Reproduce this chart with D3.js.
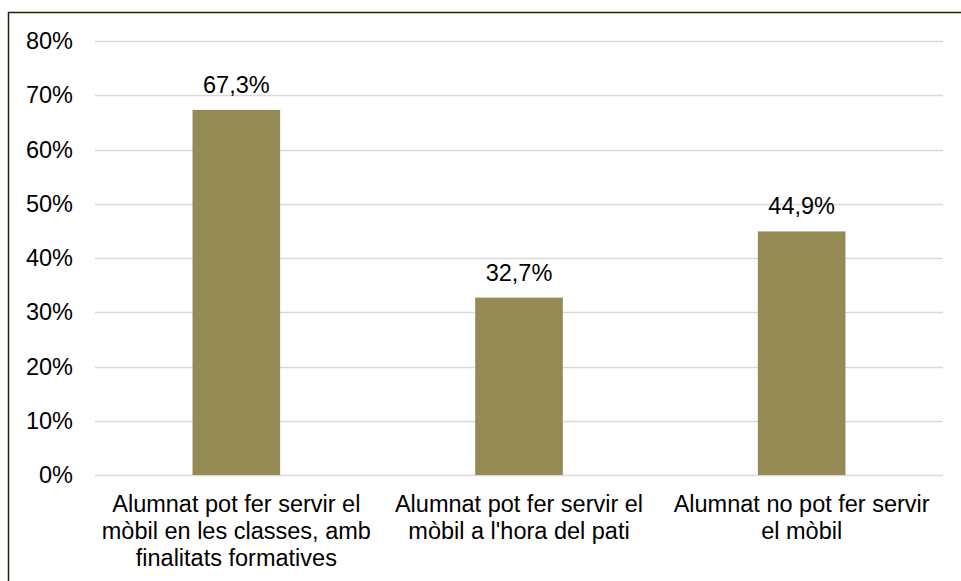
<!DOCTYPE html>
<html>
<head>
<meta charset="utf-8">
<script src="https://cdn.jsdelivr.net/npm/d3@7"></script>
<style>
  body { margin: 0; background: #fff; }
  text { font-family: "Liberation Sans", Arial, sans-serif; fill: #000; }
</style>
</head>
<body>
<div id="chart"></div>
<script>
const categories = [
  ['Alumnat pot fer servir el', 'mòbil en les classes, amb', 'finalitats formatives'],
  ['Alumnat pot fer servir el', "mòbil a l'hora del pati"],
  ['Alumnat no pot fer servir', 'el mòbil']
];
const values = [67.3, 32.7, 44.9];
const yTicks = [0, 10, 20, 30, 40, 50, 60, 70, 80];

const width = 961, height = 581;
const margin = { top: 41, right: 18, bottom: 106, left: 95 };
const fs = '23.5px';

const svg = d3.select('#chart').append('svg').attr('width', width).attr('height', height);

// outer frame
svg.append('rect').attr('x', 8.5).attr('y', 12.5).attr('width', width + 10).attr('height', height + 10)
  .attr('fill', 'none').attr('stroke', '#23230f').attr('stroke-width', 1.5);

const x = d3.scaleBand().domain(d3.range(values.length))
  .range([margin.left, width - margin.right]).paddingInner(0.69).paddingOuter(0.345);
const y = d3.scaleLinear().domain([0, 80]).range([height - margin.bottom, margin.top]);

// gridlines
svg.append('g').selectAll('line').data(yTicks).enter().append('line')
  .attr('x1', margin.left).attr('x2', width - margin.right)
  .attr('y1', d => Math.round(y(d)) + 0.5).attr('y2', d => Math.round(y(d)) + 0.5)
  .attr('stroke', '#d9d9d9').attr('stroke-width', 1.5);

// y axis labels
svg.append('g').selectAll('text').data(yTicks).enter().append('text')
  .attr('x', 73).attr('y', d => y(d)).attr('dy', '0.35em')
  .attr('text-anchor', 'end').style('font-size', fs)
  .text(d => d + '%');

// bars
svg.append('g').selectAll('rect').data(values).enter().append('rect')
  .attr('x', (d, i) => x(i)).attr('width', x.bandwidth())
  .attr('y', d => y(d)).attr('height', d => y(0) - y(d))
  .attr('fill', '#948a54');

// value labels
svg.append('g').selectAll('text').data(values).enter().append('text')
  .attr('x', (d, i) => x(i) + x.bandwidth() / 2).attr('y', d => y(d) - 17)
  .attr('text-anchor', 'middle').style('font-size', fs)
  .text(d => d.toFixed(1).replace('.', ',') + '%');

// category labels
const cat = svg.append('g').selectAll('text').data(categories).enter().append('text')
  .attr('text-anchor', 'middle').style('font-size', fs);
cat.each(function (lines, i) {
  const cx = x(i) + x.bandwidth() / 2;
  d3.select(this).selectAll('tspan').data(lines).enter().append('tspan')
    .attr('x', cx).attr('y', (l, j) => y(0) + 37 + j * 27)
    .text(l => l);
});
</script>
</body>
</html>
